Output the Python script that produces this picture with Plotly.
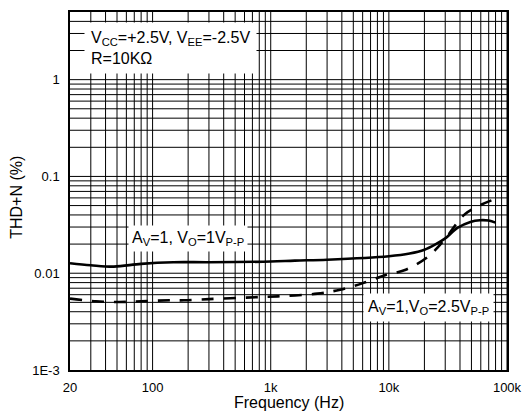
import plotly.graph_objects as go

# ---- data ----
freq_solid = [20, 30, 47, 80, 150, 300, 1000, 1600, 3000, 10000, 15000, 20000, 25000, 30000, 38000, 49000, 59000, 70000, 80000]
thd_solid = [0.0127, 0.0121, 0.0117, 0.0125, 0.0130, 0.0130, 0.0132, 0.0135, 0.0138, 0.0150, 0.0160, 0.0175, 0.0200, 0.0229, 0.0294, 0.0339, 0.0353, 0.0350, 0.0333]

freq_dash = [20, 33, 52, 80, 142, 184, 300, 615, 1150, 2480, 3870, 6030, 9400, 13700, 21400, 29400, 44500, 73800]
thd_dash = [0.00546, 0.00513, 0.00504, 0.00513, 0.00525, 0.00525, 0.0054, 0.0056, 0.00577, 0.00615, 0.00676, 0.0079, 0.0096, 0.0108, 0.0148, 0.0220, 0.0412, 0.0566]

x_tickvals = [20, 100, 1000, 10000, 100000]
x_ticktext = ["20", "100", "1k", "10k", "100k"]
y_tickvals = [0.001, 0.01, 0.1, 1]
y_ticktext = ["1E-3", "0.01", "0.1", "1"]

x_min, x_max = 20, 100000
y_min, y_max = 0.001, 5

FONT = "Arial, Liberation Sans, sans-serif"

fig = go.Figure()

# log grid lines (1..9 per decade) drawn through the axes
gx, gy = [], []
for d in range(1, 6):
    for k in range(1, 10):
        v = k * 10 ** d
        if x_min < v <= x_max:
            gx += [v, v, None]
            gy += [y_min, y_max, None]
for d in range(-3, 1):
    for k in range(1, 10):
        v = k * 10.0 ** d
        if y_min < v < y_max:
            gx += [x_min, x_max, None]
            gy += [v, v, None]
fig.add_trace(go.Scatter(x=gx, y=gy, mode="lines", line=dict(color="black", width=1),
                         hoverinfo="skip", showlegend=False))

fig.add_trace(go.Scatter(x=freq_solid, y=thd_solid, mode="lines",
                         line=dict(color="black", width=2.6, shape="spline"),
                         showlegend=False))
fig.add_trace(go.Scatter(x=freq_dash, y=thd_dash, mode="lines",
                         line=dict(color="black", width=2.6, shape="spline", dash="12px,10px"),
                         showlegend=False))

fig.update_xaxes(type="log", range=[1.30103, 5], tickvals=x_tickvals, ticktext=x_ticktext,
                 showgrid=False, zeroline=False, showline=True, mirror=True,
                 linecolor="black", linewidth=1.5, ticks="outside", ticklen=5,
                 ticklabeloverflow="allow",
                 tickcolor="rgba(0,0,0,0)", tickfont=dict(family=FONT, size=13, color="black"))
fig.update_yaxes(type="log", range=[-3, 0.69897], tickvals=y_tickvals, ticktext=y_ticktext,
                 showgrid=False, zeroline=False, showline=True, mirror=True,
                 linecolor="black", linewidth=1.5, ticks="outside", ticklen=6,
                 ticklabeloverflow="allow",
                 tickcolor="rgba(0,0,0,0)", tickfont=dict(family=FONT, size=13, color="black"))

ann_font = dict(family=FONT, size=16, color="black")
fig.update_layout(
    width=532, height=417,
    margin=dict(l=70, r=14, t=10, b=47),
    paper_bgcolor="white", plot_bgcolor="white",
    annotations=[
        dict(text="V<sub>CC</sub>=+2.5V, V<sub>EE</sub>=-2.5V<br>R=10KΩ",
             xref="paper", yref="paper", x=(84 - 70) / 448, y=1 - (20 - 10) / 360,
             xanchor="left", yanchor="top", align="left", showarrow=False,
             bgcolor="white", borderpad=6, font=ann_font),
        dict(text="A<sub>V</sub>=1, V<sub>O</sub>=1V<sub>P-P</sub>",
             xref="paper", yref="paper", x=(190.5 - 70) / 448, y=1 - (238 - 10) / 360,
             xanchor="center", yanchor="middle", showarrow=False,
             bgcolor="white", borderpad=3, font=ann_font),
        dict(text="A<sub>V</sub>=1,V<sub>O</sub>=2.5V<sub>P-P</sub>",
             xref="paper", yref="paper", x=(438 - 70) / 448, y=1 - (307.5 - 10) / 360,
             xanchor="center", yanchor="middle", showarrow=False,
             bgcolor="white", borderpad=4, font=ann_font),
        dict(text="Frequency (Hz)", xref="paper", yref="paper",
             x=0.5, y=-(403 - 370) / 360, xanchor="center", yanchor="middle",
             showarrow=False, font=ann_font),
        dict(text="THD+N (%)", xref="paper", yref="paper", textangle=-90,
             x=(15 - 70) / 448, y=1 - (196.5 - 10) / 360, xanchor="center", yanchor="middle",
             showarrow=False, font=ann_font),
    ],
)

fig.write_html("out.html", config={"displayModeBar": False},
               post_script="document.body.style.margin='0';")
